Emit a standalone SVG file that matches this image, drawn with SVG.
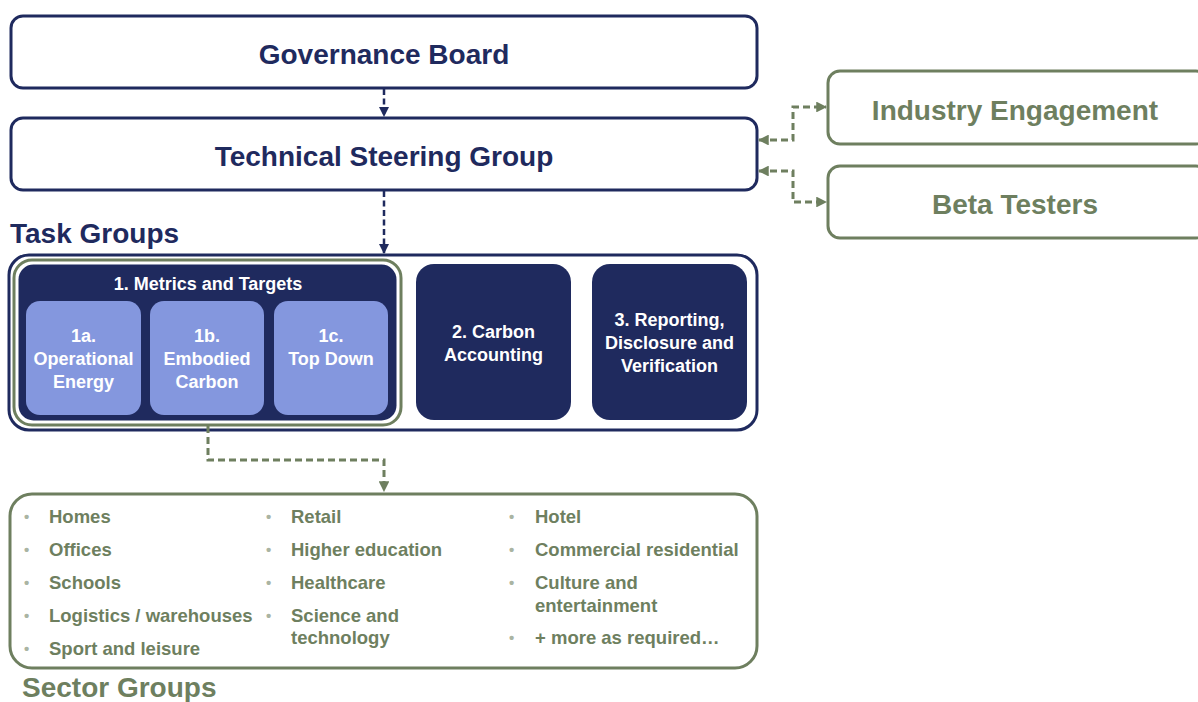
<svg xmlns="http://www.w3.org/2000/svg" width="1198" height="702" viewBox="0 0 1198 702">
<defs>
<style>
.t{font-family:"Liberation Sans",Arial,sans-serif;font-weight:bold}
.big{font-size:28px}
.sm{font-size:18px}
.sg{font-size:18.5px}
.navy{fill:#1F2A5E}
.green{fill:#6E7F5F}
.white{fill:#ffffff}
.bul{fill:#AAB4A2;font-size:15px}
.nbox{fill:#ffffff;stroke:#1F2A5E;stroke-width:3}
.gbox{fill:#ffffff;stroke:#6E7F5F;stroke-width:3}
.dk{fill:#1F2A5E}
.lt{fill:#8497DE}
.nline{fill:none;stroke:#1F2A5E;stroke-width:2.5;stroke-dasharray:6 3.5}
.gline{fill:none;stroke:#6E7F5F;stroke-width:3;stroke-dasharray:7 4}
</style>
<marker id="an" viewBox="0 0 10 10" refX="9" refY="5" markerWidth="4" markerHeight="4" orient="auto-start-reverse" markerUnits="strokeWidth"><path d="M0,0 L10,5 L0,10 z" fill="#1F2A5E"/></marker>
<marker id="ag" viewBox="0 0 10 10" refX="9" refY="5" markerWidth="3.6" markerHeight="3.6" orient="auto-start-reverse" markerUnits="strokeWidth"><path d="M0,0 L10,5 L0,10 z" fill="#6E7F5F"/></marker>
</defs>

<g id="governance-board">
<rect class="nbox" x="11" y="16" width="746" height="72" rx="12"/>
<text class="t big navy" x="384" y="64" text-anchor="middle">Governance Board</text>
</g>

<g id="technical-steering-group">
<rect class="nbox" x="11" y="118" width="746" height="72" rx="12"/>
<text class="t big navy" x="384" y="166" text-anchor="middle">Technical Steering Group</text>
</g>

<g id="industry-engagement">
<rect class="gbox" x="828" y="71" width="380" height="73" rx="12"/>
<text class="t big green" x="1015" y="120" text-anchor="middle">Industry Engagement</text>
</g>

<g id="beta-testers">
<rect class="gbox" x="828" y="166" width="380" height="72" rx="12"/>
<text class="t big green" x="1015" y="214" text-anchor="middle">Beta Testers</text>
</g>

<g id="task-groups">
<text class="t big navy" x="10" y="243">Task Groups</text>
<rect class="nbox" x="9" y="255" width="748" height="175" rx="20"/>
</g>

<g id="tg1-metrics-and-targets">
<rect x="14" y="260" width="387" height="165" rx="18" fill="#ffffff" stroke="#6E7F5F" stroke-width="3"/>
<rect class="dk" x="18.5" y="264.5" width="378" height="156" rx="15"/>
<text class="t sm white" x="208" y="290" text-anchor="middle">1. Metrics and Targets</text>
</g>

<g id="tg1a">
<rect class="lt" x="26" y="301" width="115" height="114" rx="14"/>
<text class="t sm white" x="83.5" y="342" text-anchor="middle">1a.</text>
<text class="t sm white" x="83.5" y="365" text-anchor="middle">Operational</text>
<text class="t sm white" x="83.5" y="388" text-anchor="middle">Energy</text>
</g>

<g id="tg1b">
<rect class="lt" x="150" y="301" width="114" height="114" rx="14"/>
<text class="t sm white" x="207" y="342" text-anchor="middle">1b.</text>
<text class="t sm white" x="207" y="365" text-anchor="middle">Embodied</text>
<text class="t sm white" x="207" y="388" text-anchor="middle">Carbon</text>
</g>

<g id="tg1c">
<rect class="lt" x="274" y="301" width="114" height="114" rx="14"/>
<text class="t sm white" x="331" y="342" text-anchor="middle">1c.</text>
<text class="t sm white" x="331" y="365" text-anchor="middle">Top Down</text>
</g>

<g id="tg2-carbon-accounting">
<rect class="dk" x="416" y="264" width="155" height="156" rx="18"/>
<text class="t sm white" x="493.5" y="338" text-anchor="middle">2. Carbon</text>
<text class="t sm white" x="493.5" y="361" text-anchor="middle">Accounting</text>
</g>

<g id="tg3-reporting">
<rect class="dk" x="592" y="264" width="155" height="156" rx="18"/>
<text class="t sm white" x="669.5" y="326" text-anchor="middle">3. Reporting,</text>
<text class="t sm white" x="669.5" y="349" text-anchor="middle">Disclosure and</text>
<text class="t sm white" x="669.5" y="372" text-anchor="middle">Verification</text>
</g>

<g id="sector-groups">
<rect class="gbox" x="10" y="494" width="747" height="174" rx="22"/>
<text class="t big green" x="22" y="697">Sector Groups</text>
<g class="t">
<text class="bul" x="24" y="522">•</text><text class="sg green" x="49" y="523">Homes</text>
<text class="bul" x="24" y="555">•</text><text class="sg green" x="49" y="556">Offices</text>
<text class="bul" x="24" y="588">•</text><text class="sg green" x="49" y="589">Schools</text>
<text class="bul" x="24" y="621">•</text><text class="sg green" x="49" y="622">Logistics / warehouses</text>
<text class="bul" x="24" y="654">•</text><text class="sg green" x="49" y="655">Sport and leisure</text>
<text class="bul" x="266" y="522">•</text><text class="sg green" x="291" y="523">Retail</text>
<text class="bul" x="266" y="555">•</text><text class="sg green" x="291" y="556">Higher education</text>
<text class="bul" x="266" y="588">•</text><text class="sg green" x="291" y="589">Healthcare</text>
<text class="bul" x="266" y="621">•</text><text class="sg green" x="291" y="622">Science and</text>
<text class="sg green" x="291" y="644">technology</text>
<text class="bul" x="509" y="522">•</text><text class="sg green" x="535" y="523">Hotel</text>
<text class="bul" x="509" y="555">•</text><text class="sg green" x="535" y="556">Commercial residential</text>
<text class="bul" x="509" y="588">•</text><text class="sg green" x="535" y="589">Culture and</text>
<text class="sg green" x="535" y="612">entertainment</text>
<text class="bul" x="509" y="643">•</text><text class="sg green" x="535" y="644">+ more as required…</text>
</g>
</g>

<g id="connectors">
<path class="nline" d="M384 89 V116" marker-end="url(#an)"/>
<path class="nline" d="M384 191 V253" marker-end="url(#an)"/>
<path class="gline" d="M759 140 H793 V107 H826" marker-start="url(#ag)" marker-end="url(#ag)"/>
<path class="gline" d="M759 171 H793 V202 H826" marker-start="url(#ag)" marker-end="url(#ag)"/>
<path class="gline" d="M208 426 V460 H384 V491" marker-end="url(#ag)"/>
</g>
</svg>
